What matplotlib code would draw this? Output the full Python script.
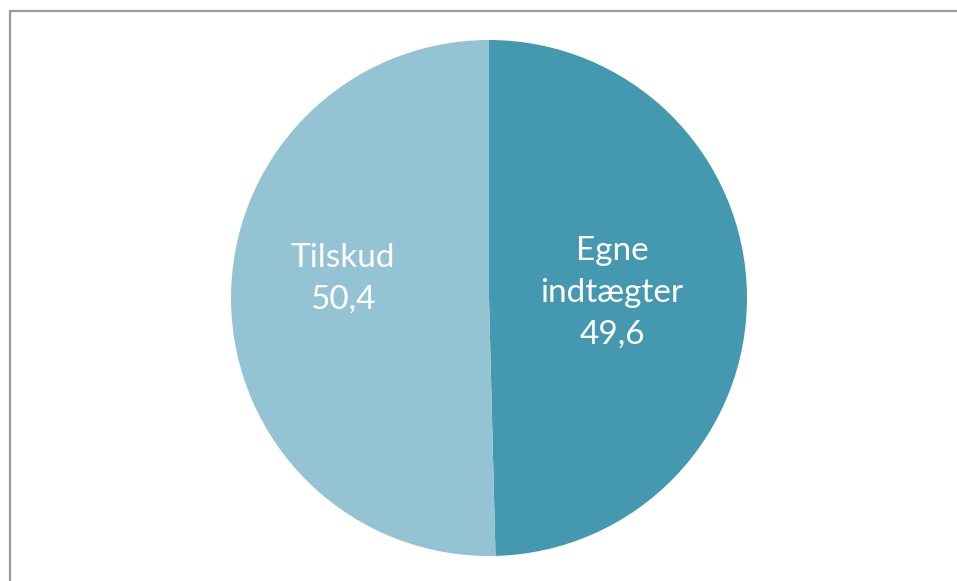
import matplotlib.pyplot as plt
from matplotlib.patches import Rectangle

labels = ['Egne\nindtægter\n49,6', 'Tilskud\n50,4']
values = [49.6, 50.4]
colors = ['#4499B0', '#94C3D4']

fig = plt.figure(figsize=(9.57, 5.81), dpi=100)

# grey frame round the chart area (runs off right/bottom edge)
fig.patches.append(Rectangle((10 / 957, -0.1), 1.2, 1 - 11 / 581 + 0.1,
                             transform=fig.transFigure, fill=False,
                             edgecolor='#9a9a9a', linewidth=1.6))

ax = fig.add_axes([231 / 957, 25 / 581, 516 / 957, 516 / 581])
wedges, _ = ax.pie(values, colors=colors, startangle=90, counterclock=False,
                   radius=1, wedgeprops={'linewidth': 0})
ax.set_xlim(-1, 1)
ax.set_ylim(-1, 1)
ax.axis('off')

label_pos = [(0.477, 0.02), (-0.566, 0.075)]
for txt, (x, y) in zip(labels, label_pos):
    ax.text(x, y, txt, ha='center', va='center', color='white',
            fontsize=24, family='Lato', linespacing=1.5)

fig.savefig('out.png', dpi=100)
